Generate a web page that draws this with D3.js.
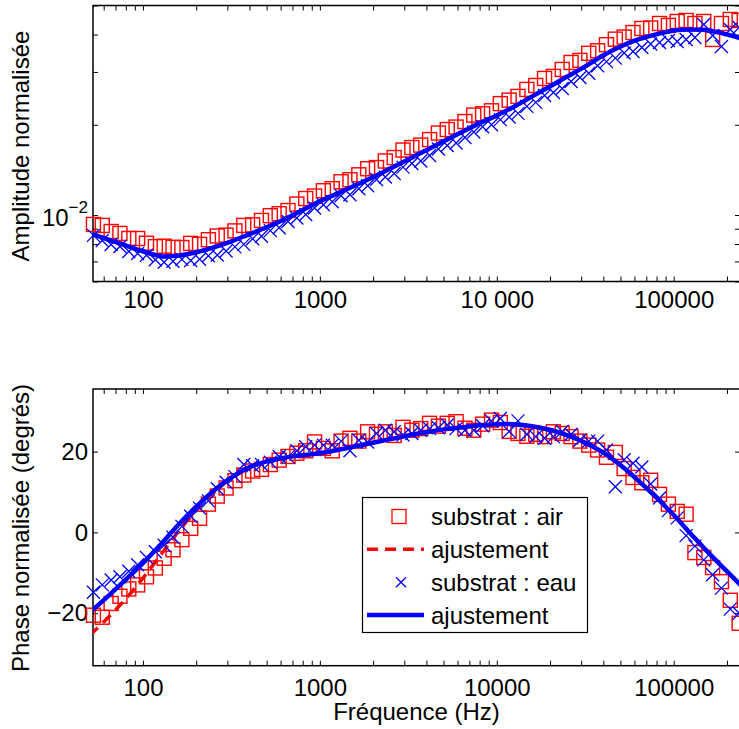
<!DOCTYPE html>
<html><head><meta charset="utf-8">
<script src="https://cdn.jsdelivr.net/npm/d3@7"></script>
<style>
body{margin:0;background:#fff}
svg{display:block}
text{font-family:"Liberation Sans",Arial,Helvetica,sans-serif}
</style>
</head><body><svg id="c" width="739" height="729"></svg>
<script>
// ---------- data ----------
const freq = [52.5,58.9,66.1,74.1,83.2,93.3,104.7,117.5,131.8,147.9,166.0,186.2,208.9,234.4,263.0,295.1,331.1,371.5,416.9,467.7,524.8,588.8,660.7,741.3,831.8,933.3,
  1047,1175,1318,1479,1660,1862,2089,2344,2630,2951,3311,3715,4169,4677,5248,5888,6607,7413,8318,9333,
  10470,11750,13180,14790,16600,18620,20890,23440,26300,29510,33110,37150,41690,46770,52480,58880,66070,74130,83180,93330,
  104700,117500,131800,147900,166000,186200,208900,234400];
const ampAir = [0.00930,0.00923,0.00881,0.00868,0.00835,0.00835,0.00805,0.00784,0.00787,0.00780,
  0.00779,0.00804,0.00798,0.00827,0.00851,0.00857,0.00885,0.00923,0.00927,0.00959,
  0.00995,0.01010,0.01035,0.01088,0.01135,0.01157,0.01205,0.01224,0.01291,0.01311,
  0.01362,0.01427,0.01440,0.01514,0.01555,0.01647,0.01679,0.01711,0.01785,0.01877,
  0.01928,0.01965,0.02050,0.02154,0.02176,0.02227,0.02353,0.02417,0.02487,0.02624,
  0.02705,0.02855,0.02900,0.03060,0.03228,0.03280,0.03464,0.03532,0.03700,0.03861,
  0.03924,0.04062,0.04191,0.04207,0.04355,0.04289,0.04423,0.04457,0.04355,0.04423,
  0.03852,0.04355,0.04491,0.04457];
const ampEau = [0.00855,0.00822,0.00797,0.00785,0.00756,0.00744,0.00734,0.00709,0.00696,0.00701,
  0.00711,0.00705,0.00712,0.00731,0.00735,0.00758,0.00783,0.00798,0.00833,0.00849,
  0.00887,0.00907,0.00951,0.00977,0.01004,0.01055,0.01082,0.01107,0.01160,0.01169,
  0.01224,0.01252,0.01313,0.01339,0.01375,0.01445,0.01485,0.01514,0.01579,0.01660,
  0.01705,0.01738,0.01813,0.01891,0.01970,0.02000,0.02081,0.02122,0.02183,0.02303,
  0.02375,0.02506,0.02564,0.02644,0.02790,0.02877,0.02972,0.03148,0.03249,0.03337,
  0.03470,0.03510,0.03622,0.03721,0.03764,0.03822,0.03793,0.03852,0.03911,0.04322,
  0.03972,0.03650,0.04159,0.04224];
const phaseAir = [-20.5,-21.0,-17.6,-15.8,-14.0,-13.0,-11.0,-8.8,-6.4,-4.3,
  -1.8,1.0,3.5,7.0,9.0,11.0,12.8,14.2,15.2,15.6,
  16.8,17.9,18.8,19.6,20.2,22.4,20.8,20.2,22.6,23.3,
  22.6,24.9,24.3,24.9,24.0,26.0,25.3,25.7,27.0,26.3,
  27.0,27.4,25.8,25.3,26.8,27.8,27.2,25.0,24.5,23.8,
  24.3,23.7,24.9,24.5,23.7,22.6,21.6,20.4,18.6,19.8,
  15.8,13.6,12.3,12.9,9.4,7.0,5.2,4.5,-5.0,-6.2,
  -8.7,-12.2,-16.8,-22.5];
const phaseEau = [-14.8,-13.0,-11.8,-11.0,-9.6,-8.0,-6.2,-4.8,-3.2,-1.2,
  1.5,4.0,6.0,7.8,10.8,12.4,13.8,16.8,16.5,16.8,
  17.4,18.8,18.7,20.2,21.2,21.6,21.6,21.6,22.6,20.2,
  22.8,22.4,24.5,25.3,24.9,24.1,24.5,25.3,25.7,25.9,
  26.6,25.7,25.3,25.3,26.4,27.6,28.2,25.0,27.6,24.3,
  23.7,23.3,23.7,25.0,24.3,22.8,22.6,22.6,20.4,11.3,
  18.0,17.1,16.2,12.0,8.5,5.4,3.6,-0.8,-3.4,-6.8,
  -10.5,-13.8,-19.0,-20.0];

const fitFreq = [50.12,63.10,79.43,100,125.9,158.5,199.5,251.2,316.2,398.1,501.2,631.0,794.3,
  1000,1259,1585,1995,2512,3162,3981,5012,6310,7943,
  10000,12589,15849,19953,25119,31623,39811,50119,63096,79433,
  100000,125893,158489,199526,251189];
const fitAmpAir = [0.00869,0.00830,0.00792,0.00757,0.00729,0.00732,0.00751,0.00780,0.00817,0.00862,0.00910,0.00968,0.01037,
  0.01111,0.01181,0.01256,0.01336,0.01431,0.01533,0.01643,0.01761,0.01887,0.02022,
  0.02149,0.02303,0.02487,0.02685,0.02900,0.03131,0.03406,0.03650,0.03852,0.04004,
  0.04129,0.04159,0.04129,0.04004,0.03852];
const fitAmpEau = [0.00869,0.00830,0.00792,0.00757,0.00729,0.00732,0.00751,0.00780,0.00817,0.00862,0.00910,0.00968,0.01037,
  0.01111,0.01181,0.01256,0.01336,0.01431,0.01533,0.01643,0.01761,0.01887,0.02022,
  0.02149,0.02303,0.02487,0.02685,0.02900,0.03131,0.03406,0.03650,0.03852,0.04004,
  0.04129,0.04159,0.04129,0.04004,0.03852];
const fitPhaseAir = [-25.5,-21.2,-16.6,-11.3,-5.6,0.2,5.4,9.9,13.4,16.0,17.6,18.5,19.1,
  19.6,20.4,21.3,22.2,23.1,24.0,24.8,25.5,26.0,26.5,
  26.8,26.8,26.3,25.4,24.0,22.2,19.8,16.6,12.8,8.7,
  4.3,-0.5,-5.2,-9.6,-14.0];
const fitPhaseEau = [-19.8,-15.9,-11.8,-7.6,-3.0,1.9,6.3,10.3,13.6,16.1,17.6,18.5,19.1,
  19.6,20.4,21.3,22.2,23.1,24.0,24.8,25.5,26.0,26.5,
  26.8,26.8,26.3,25.4,24.0,22.2,19.8,16.6,12.8,8.7,
  4.3,-0.5,-5.2,-9.6,-14.0];

const xMajor = [100,1000,10000,100000];
const xLabelsTop = ["100","1000","10 000","100000"];
const xLabelsBottom = ["100","1000","10000","100000"];
const ampMajor = [0.01];
const phaseMajor = [-20,0,20];
const legendLabels = ["substrat : air","ajustement","substrat : eau","ajustement"];
const yLabelTop = "Amplitude normalisée";
const yLabelBottom = "Phase normalisée (degrés)";
const xLabelText = "Fréquence (Hz)";

// ---------- layout ----------
const FONT = 24;
const RED = "#ff0000", BLUE = "#0000ff";
const xL = 93, xR = 740;
const P1 = {top:5.5, bottom:281.5};
const P2 = {top:389, bottom:665.7};

const svg = d3.select("#c");
const x = d3.scaleLog().domain([52.2,237000]).range([xL,xR]);
const yA = d3.scaleLog().domain([0.006,0.05]).range([P1.bottom,P1.top]);
const yP = d3.scaleLinear().domain([-33,35.5]).range([P2.bottom,P2.top]);

const defs = svg.append("defs");
[["clip1",P1],["clip2",P2]].forEach(([id,P])=>{
  defs.append("clipPath").attr("id",id).append("rect")
    .attr("x",xL).attr("y",P.top).attr("width",xR-xL).attr("height",P.bottom-P.top);
});

function styleAxis(g){
  g.select(".domain").remove();
  g.attr("font-size",FONT).attr("font-family",'"Liberation Sans",Arial,sans-serif');
  g.selectAll("line").attr("stroke","#000").attr("stroke-width",1);
  g.selectAll("text").attr("fill","#000");
}

function panel(P, y, clipId, sAir, sEau, fAir, fAeu, yMinor, yMajor, yFmt, xLabels, xPad){
  svg.append("g").attr("transform",`translate(0,${P.bottom})`)
    .call(d3.axisBottom(x).tickValues(x.ticks()).tickSize(-5).tickFormat("")).call(styleAxis);
  svg.append("g").attr("transform",`translate(0,${P.top})`)
    .call(d3.axisTop(x).tickValues(x.ticks()).tickSize(-5).tickFormat("")).call(styleAxis);
  svg.append("g").attr("transform",`translate(${xL},0)`)
    .call(d3.axisLeft(y).tickValues(yMinor).tickSize(-5).tickFormat("")).call(styleAxis);
  svg.append("g").attr("transform",`translate(${xR},0)`)
    .call(d3.axisRight(y).tickValues(yMinor).tickSize(-5).tickFormat("")).call(styleAxis);
  svg.append("g").attr("transform",`translate(0,${P.bottom})`)
    .call(d3.axisBottom(x).tickValues(xMajor).tickSize(0).tickPadding(xPad).tickFormat((d,i)=>xLabels[i])).call(styleAxis);
  const gl = svg.append("g").attr("transform",`translate(${xL},0)`)
    .call(d3.axisLeft(y).tickValues(yMajor).tickSize(0).tickPadding(5).tickFormat(yFmt)).call(styleAxis);
  svg.append("rect").attr("x",xL).attr("y",P.top).attr("width",xR-xL).attr("height",P.bottom-P.top)
    .attr("fill","none").attr("stroke","#000").attr("stroke-width",1.5);

  const line = d3.line().x(d=>x(d[0])).y(d=>y(d[1])).curve(d3.curveCatmullRom.alpha(0.5));
  const S = 7;
  svg.append("g").selectAll("rect").data(freq.map((f,i)=>[f,sAir[i]])).join("rect")
    .attr("x",d=>x(d[0])-S).attr("y",d=>y(d[1])-S).attr("width",2*S).attr("height",2*S)
    .attr("fill","none").attr("stroke",RED).attr("stroke-width",1.4);
  svg.append("path").attr("clip-path",`url(#${clipId})`).datum(fitFreq.map((f,i)=>[f,fAir[i]]))
    .attr("d",line).attr("fill","none").attr("stroke",RED).attr("stroke-width",3.5).attr("stroke-dasharray","11,7");
  const C = 6.5;
  svg.append("g").selectAll("path").data(freq.map((f,i)=>[f,sEau[i]])).join("path")
    .attr("d",d=>{const cx=x(d[0]),cy=y(d[1]);return `M${cx-C},${cy-C}L${cx+C},${cy+C}M${cx-C},${cy+C}L${cx+C},${cy-C}`;})
    .attr("fill","none").attr("stroke",BLUE).attr("stroke-width",1.3);
  svg.append("path").attr("clip-path",`url(#${clipId})`).datum(fitFreq.map((f,i)=>[f,fAeu[i]]))
    .attr("d",line).attr("fill","none").attr("stroke",BLUE).attr("stroke-width",4.5);
  return gl;
}

const gl1 = panel(P1, yA, "clip1", ampAir, ampEau, fitAmpAir, fitAmpEau,
  yA.ticks(), ampMajor, ()=>"", xLabelsTop, 9.5);
gl1.selectAll(".tick text").each(function(){
  const t = d3.select(this);
  t.attr("dy",null).attr("y",10);
  t.append("tspan").text("10");
  t.append("tspan").text("\u22122").attr("font-size",17).attr("dy",-12.5);
});

panel(P2, yP, "clip2", phaseAir, phaseEau, fitPhaseAir, fitPhaseEau,
  phaseMajor, phaseMajor, d=>d<0?"\u2212"+Math.abs(d):String(d), xLabelsBottom, 13);

svg.append("text").attr("transform","translate(29,146) rotate(-90)").attr("text-anchor","middle")
  .attr("font-size",FONT).text(yLabelTop);
svg.append("text").attr("transform","translate(29,528) rotate(-90)").attr("text-anchor","middle")
  .attr("font-size",FONT).text(yLabelBottom);
svg.append("text").attr("x",(xL+xR)/2).attr("y",720).attr("text-anchor","middle")
  .attr("font-size",FONT).text(xLabelText);

const lg = svg.append("g");
lg.append("rect").attr("x",362.5).attr("y",497.5).attr("width",225).attr("height",135)
  .attr("fill","#fff").attr("stroke","#000").attr("stroke-width",1.2);
const rowY = d3.scalePoint().domain(d3.range(legendLabels.length)).range([516.5,615]);
legendLabels.forEach((lab,i)=>{
  lg.append("text").attr("x",431).attr("y",rowY(i)+8.5).attr("font-size",FONT).text(lab);
});
const r0 = rowY(0), r1 = rowY(1), r2 = rowY(2), r3 = rowY(3);
lg.append("rect").attr("x",399-7).attr("y",r0-7).attr("width",14).attr("height",14)
  .attr("fill","none").attr("stroke",RED).attr("stroke-width",1.3);
lg.append("line").attr("x1",367).attr("x2",424).attr("y1",r1).attr("y2",r1)
  .attr("stroke",RED).attr("stroke-width",3.5).attr("stroke-dasharray","11,7");
lg.append("path").attr("d",`M${401-5},${r2-5}L${401+5},${r2+5}M${401-5},${r2+5}L${401+5},${r2-5}`)
  .attr("stroke",BLUE).attr("stroke-width",1.3);
lg.append("line").attr("x1",367).attr("x2",424).attr("y1",r3).attr("y2",r3)
  .attr("stroke",BLUE).attr("stroke-width",4.5);
</script>
</body></html>
